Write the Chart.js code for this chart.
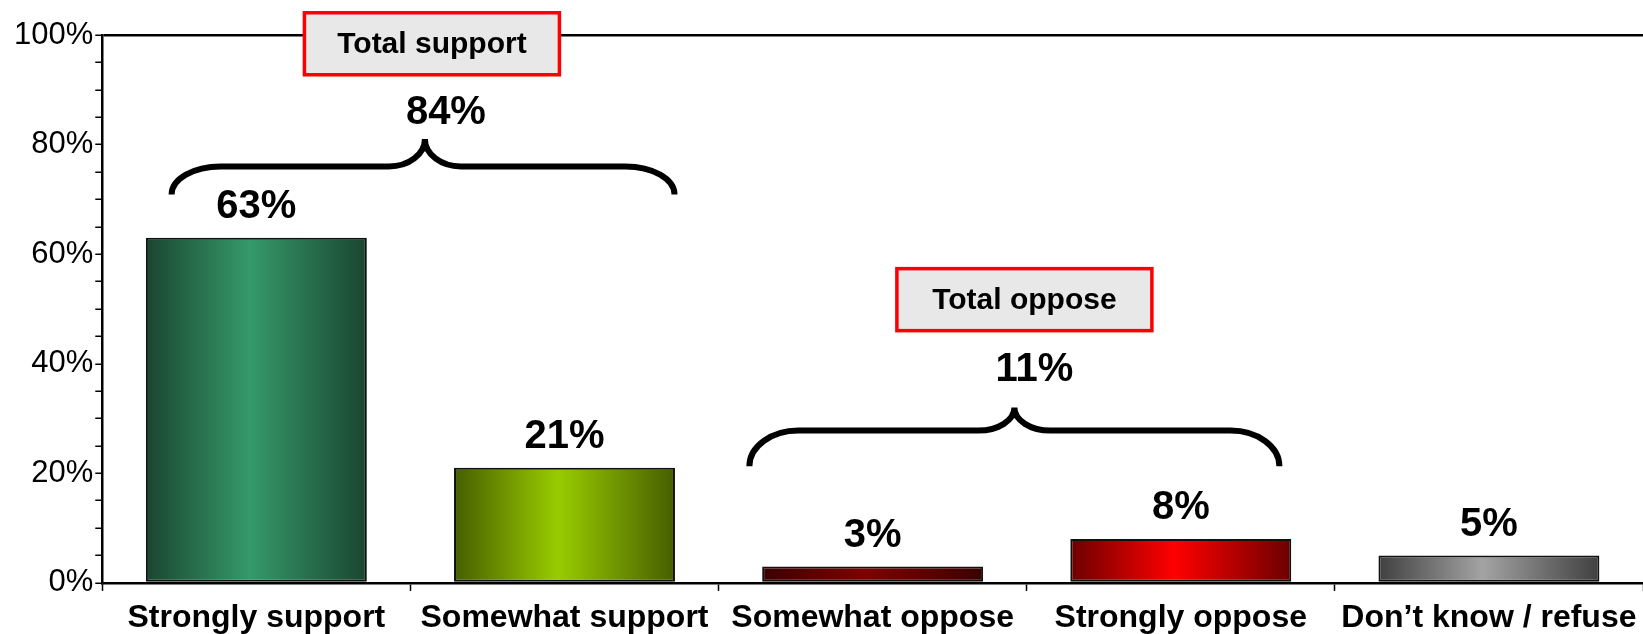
<!DOCTYPE html>
<html>
<head>
<meta charset="utf-8">
<title>Support / oppose</title>
<script src="https://cdn.jsdelivr.net/npm/chart.js@4/dist/chart.umd.min.js"></script>
<style>
  html, body { margin: 0; padding: 0; background: #fff; }
  #wrap { width: 1643px; height: 634px; }
</style>
</head>
<body>
<div id="wrap"><canvas id="chart" width="1643" height="634"></canvas></div>
<script>
// data
const categories = ['Strongly support', 'Somewhat support', 'Somewhat oppose', 'Strongly oppose', 'Don\u2019t know / refuse'];
const values = [63, 21, 3, 8, 5];
const valueLabels = ['63%', '21%', '3%', '8%', '5%'];

const groupNames = ['Total support', 'Total oppose'];
const groupTotals = ['84%', '11%'];
const groupFirst = [0, 2];
const groupLast = [1, 3];

const yTickValues = [0, 20, 40, 60, 80, 100];
const yMinorStep = 5;

// bar colours (edge -> centre -> edge)
const barEdge = ['#1a4630', '#465e00', '#3a0000', '#6c0000', '#404040'];
const barCenter = ['#35996a', '#99cc00', '#800000', '#ff0000', '#a3a3a3'];
const barFill = 0.717;

const FONT = '"Liberation Sans", Arial, Helvetica, sans-serif';

function barGradient(c) {
  const i = c.dataIndex;
  const chart = c.chart;
  const xs = chart.scales && chart.scales.x;
  if (i === undefined || !xs || !xs.width) return barCenter[i || 0];
  const cx = xs.getPixelForValue(i);
  const w = (xs.width / categories.length) * barFill;
  const g = chart.ctx.createLinearGradient(cx - w / 2, 0, cx + w / 2, 0);
  g.addColorStop(0, barEdge[i]);
  g.addColorStop(0.47, barCenter[i]);
  g.addColorStop(1, barEdge[i]);
  return g;
}

// bracket + box layout for each group (x in category units, y in % units)
const groupLayout = [
  { x0: -0.275, x1: 1.357, xm: 0.547, yEnd: 70.9, yBar: 76.0, yTip: 81.0, yLabel: 85.7, dxLabel: 21, yBox: 98.4, dxBox: 7 },
  { x0: 1.60, x1: 3.32, xm: 2.46, yEnd: 21.3, yBar: 27.8, yTip: 32.0, yLabel: 38.8, dxLabel: 20, yBox: 51.7, dxBox: 10 }
];

function drawBrace(ctx, x0, x1, xm, yEnd, yBar, yTip) {
  const k = 0.5523;
  const r = 49, t = 36;
  ctx.beginPath();
  ctx.moveTo(x0, yEnd);
  ctx.bezierCurveTo(x0, yEnd - k * (yEnd - yBar), x0 + r - k * r, yBar, x0 + r, yBar);
  ctx.lineTo(xm - t, yBar);
  ctx.bezierCurveTo(xm - t + k * t, yBar, xm, yTip + k * (yBar - yTip), xm, yTip);
  ctx.bezierCurveTo(xm, yTip + k * (yBar - yTip), xm + t - k * t, yBar, xm + t, yBar);
  ctx.lineTo(x1 - r, yBar);
  ctx.bezierCurveTo(x1 - r + k * r, yBar, x1, yEnd - k * (yEnd - yBar), x1, yEnd);
  ctx.stroke();
}

const annotations = {
  id: 'annotations',
  afterDatasetsDraw(chart) {
    const ctx = chart.ctx;
    const xs = chart.scales.x, ys = chart.scales.y;
    ctx.save();

    // value labels above bars
    const meta = chart.getDatasetMeta(0);
    ctx.fillStyle = '#000';
    ctx.font = 'bold 40px ' + FONT;
    ctx.textAlign = 'center';
    ctx.textBaseline = 'middle';
    meta.data.forEach((bar, i) => {
      ctx.fillText(valueLabels[i], bar.x, bar.y - 31);
    });

    // group brackets, totals and boxes
    groupNames.forEach((name, g) => {
      const L = groupLayout[g];
      const xm = xs.getPixelForValue(L.xm);
      ctx.strokeStyle = '#000';
      ctx.lineWidth = 6;
      ctx.lineCap = 'butt';
      drawBrace(ctx, xs.getPixelForValue(L.x0), xs.getPixelForValue(L.x1), xm,
        ys.getPixelForValue(L.yEnd), ys.getPixelForValue(L.yBar), ys.getPixelForValue(L.yTip));

      ctx.fillStyle = '#000';
      ctx.font = 'bold 40px ' + FONT;
      ctx.fillText(groupTotals[g], xm + L.dxLabel, ys.getPixelForValue(L.yLabel));

      ctx.font = 'bold 30px ' + FONT;
      const bw = 255, bh = 62;
      const bx = xm + L.dxBox - bw / 2;
      const by = ys.getPixelForValue(L.yBox) - bh / 2;
      ctx.fillStyle = '#e8e8e8';
      ctx.fillRect(bx, by, bw, bh);
      ctx.strokeStyle = '#ff0000';
      ctx.lineWidth = 3.5;
      ctx.strokeRect(bx, by, bw, bh);
      ctx.fillStyle = '#000';
      ctx.fillText(name, bx + bw / 2, by + bh / 2 + 1);
    });
    ctx.restore();
  }
};

new Chart(document.getElementById('chart'), {
  type: 'bar',
  data: {
    labels: categories,
    datasets: [{
      data: values,
      backgroundColor: barGradient,
      borderColor: '#111',
      borderWidth: 2,
      borderSkipped: false,
      categoryPercentage: 1,
      barPercentage: barFill
    }]
  },
  options: {
    responsive: false,
    animation: false,
    layout: { padding: { left: 12, top: 35, right: 0, bottom: -11 } },
    plugins: {
      legend: { display: false },
      tooltip: { enabled: false }
    },
    scales: {
      x: {
        grid: { offset: true, drawOnChartArea: false, tickLength: 8, tickColor: '#000', tickWidth: 1.5 },
        border: { color: '#000', width: 2.5 },
        ticks: {
          color: '#000',
          font: { family: FONT, size: 32, weight: 'bold', lineHeight: 1.44 },
          padding: 4,
          maxRotation: 0,
          autoSkip: false
        }
      },
      y: {
        min: 0,
        max: 100,
        afterBuildTicks(axis) {
          const t = [];
          for (let v = 0; v <= 100; v += yMinorStep) t.push({ value: v });
          axis.ticks = t;
        },
        grid: {
          drawOnChartArea: true,
          color: c => (c.tick && c.tick.value === 100 ? '#000' : 'rgba(0,0,0,0)'),
          lineWidth: 2.5,
          tickLength: 7,
          tickColor: '#000',
          tickWidth: 1.5
        },
        border: { color: '#000', width: 2.5 },
        ticks: {
          color: '#000',
          font: { family: FONT, size: 31 },
          padding: 2,
          autoSkip: false,
          callback: v => (yTickValues.includes(v) ? v + '%' : '')
        }
      }
    }
  },
  plugins: [annotations]
});
</script>
</body>
</html>
